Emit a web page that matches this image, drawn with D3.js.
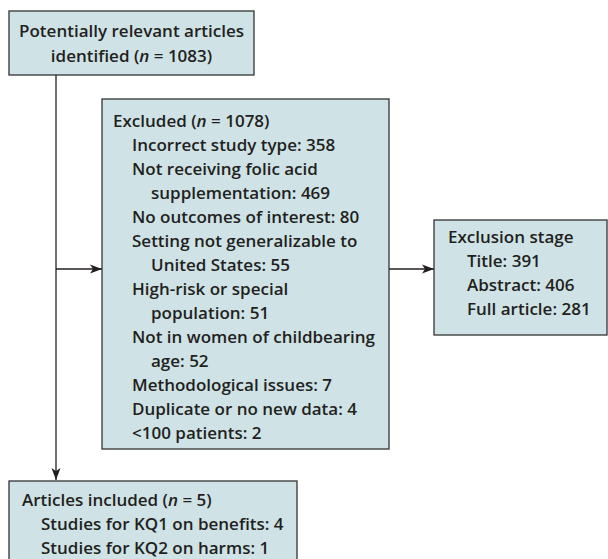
<!DOCTYPE html>
<html>
<head>
<meta charset="utf-8">
<script src="https://cdn.jsdelivr.net/npm/d3@7"></script>
<style>
  body { margin: 0; background: #fff; }
  text { font-family: "Open Sans", sans-serif; font-weight: 600; fill: #231f20; }
</style>
</head>
<body>
<div id="chart"></div>
<script>
// Flow diagram of article selection

// text of each box: [indent level, text]; "n" parts are drawn in italics
var identifiedLines = ["Potentially relevant articles", "identified (|n| = 1083)"];
var excludedLines = [
  [0, "Excluded (|n| = 1078)"],
  [1, "Incorrect study type: 358"],
  [1, "Not receiving folic acid"],
  [2, "supplementation: 469"],
  [1, "No outcomes of interest: 80"],
  [1, "Setting not generalizable to"],
  [2, "United States: 55"],
  [1, "High-risk or special"],
  [2, "population: 51"],
  [1, "Not in women of childbearing"],
  [2, "age: 52"],
  [1, "Methodological issues: 7"],
  [1, "Duplicate or no new data: 4"],
  [1, "<100 patients: 2"]
];
var stageLines = [
  [0, "Exclusion stage"],
  [1, "Title: 391"],
  [1, "Abstract: 406"],
  [1, "Full article: 281"]
];
var includedLines = [
  [0, "Articles included (|n| = 5)"],
  [1, "Studies for KQ1 on benefits: 4"],
  [1, "Studies for KQ2 on harms: 1"]
];

var width = 608, height = 559;
var lineH = 24, indent = 19, fontSize = "17px";

var svg = d3.select("#chart").append("svg")
  .attr("width", width)
  .attr("height", height);

svg.append("defs").append("marker")
  .attr("id", "arrow")
  .attr("viewBox", "0 -5 12 10")
  .attr("refX", 12).attr("refY", 0)
  .attr("markerWidth", 12).attr("markerHeight", 10)
  .attr("markerUnits", "userSpaceOnUse")
  .attr("orient", "auto")
  .append("path")
  .attr("d", "M0,-4.5L12,0L0,4.5L3,0Z")
  .attr("fill", "#231f20");

function box(x, y, w, h) {
  svg.append("rect")
    .attr("x", x).attr("y", y)
    .attr("width", w).attr("height", h)
    .attr("fill", "#cfe3e6")
    .attr("stroke", "#333")
    .attr("stroke-width", 1.3);
}

// split "a |n| b" into tspans with italic n
function fillText(sel, str) {
  str.split("|").forEach(function (part, i) {
    sel.append("tspan")
      .style("font-style", i % 2 ? "italic" : "normal")
      .text(part);
  });
}

function lines(data, x, y0) {
  svg.selectAll(null).data(data).enter().append("text")
    .attr("x", function (d) { return x + d[0] * indent; })
    .attr("y", function (d, i) { return y0 + i * lineH; })
    .style("font-size", fontSize)
    .each(function (d) { fillText(d3.select(this), d[1]); });
}

function link(pts, arrow) {
  var p = svg.append("path")
    .attr("d", d3.line()(pts))
    .attr("fill", "none")
    .attr("stroke", "#231f20")
    .attr("stroke-width", 1.3);
  if (arrow) p.attr("marker-end", "url(#arrow)");
}

// connectors
link([[56, 75], [56, 480]], true);
link([[56, 269], [102, 269]], true);
link([[389, 269], [434, 269]], true);

// boxes
box(9, 11, 245, 64);
box(102, 99, 287, 350);
box(434, 220, 173, 115);
box(9, 481, 288, 90);

svg.selectAll(null).data(identifiedLines).enter().append("text")
  .attr("x", 131.5)
  .attr("y", function (d, i) { return 37 + i * 25; })
  .attr("text-anchor", "middle")
  .style("font-size", fontSize)
  .each(function (d) { fillText(d3.select(this), d); });

lines(excludedLines, 113, 127);
lines(stageLines, 448, 243);
lines(includedLines, 22, 506);
</script>
</body>
</html>
